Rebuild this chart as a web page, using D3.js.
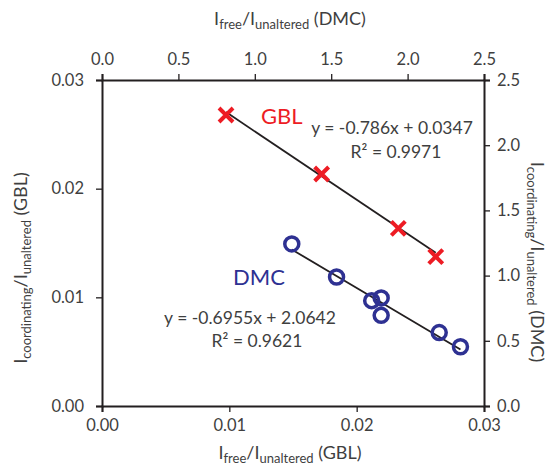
<!DOCTYPE html>
<html>
<head>
<meta charset="utf-8">
<script src="https://cdn.jsdelivr.net/npm/d3@7"></script>
<style>
  html, body { margin: 0; padding: 0; background: #fff; }
  svg text { font-family: Lato, "Open Sans", sans-serif; }
</style>
</head>
<body>
<svg id="chart" width="560" height="470"></svg>
<script>
// GBL: bottom / left axes
const gblFree = [0.00974, 0.01725, 0.02327, 0.02621];
const gblCoord = [0.02678, 0.02135, 0.01635, 0.01374];
const gblFit = { slope: -0.786, intercept: 0.0347, r2: "0.9971" };

// DMC: top / right axes
const dmcFree = [1.242, 1.535, 1.765, 1.827, 1.827, 2.207, 2.346];
const dmcCoord = [1.243, 0.989, 0.808, 0.829, 0.695, 0.563, 0.454];
const dmcFit = { slope: -0.6955, intercept: 2.0642, r2: "0.9621" };

const gblTicks = [0, 0.01, 0.02, 0.03];
const dmcTicks = [0, 0.5, 1.0, 1.5, 2.0, 2.5];

const margin = { left: 102, right: 76, top: 80, bottom: 64 };
const W = 560, H = 470;
const x0 = margin.left, x1 = W - margin.right, y0 = H - margin.bottom, y1 = margin.top;

const RED = "#ed1c24", BLUE = "#2e3192", INK = "#231f20", TXT = "#3f3f3f";

const svg = d3.select("#chart");

const xG = d3.scaleLinear().domain([0, 0.03]).range([x0, x1]);
const yG = d3.scaleLinear().domain([0, 0.03]).range([y0, y1]);
const xD = d3.scaleLinear().domain([0, 2.5]).range([x0, x1]);
const yD = d3.scaleLinear().domain([0, 2.5]).range([y0, y1]);

function styleAxis(g) {
  g.select(".domain").attr("stroke", INK).attr("stroke-width", 2);
  g.selectAll(".tick line").attr("stroke", INK).attr("stroke-width", 1.3);
  g.selectAll(".tick text").attr("fill", TXT).style("font-size", "16.5px")
    .style("font-family", "Lato, 'Open Sans', sans-serif");
}

svg.append("g").attr("transform", `translate(0,${y0})`)
  .call(d3.axisBottom(xG).tickValues(gblTicks).tickFormat(d3.format(".2f")).tickSize(6).tickPadding(7))
  .call(styleAxis);
svg.append("g").attr("transform", `translate(${x0},0)`)
  .call(d3.axisLeft(yG).tickValues(gblTicks).tickFormat(d3.format(".2f")).tickSize(6).tickPadding(12))
  .call(styleAxis);
svg.append("g").attr("transform", `translate(0,${y1})`)
  .call(d3.axisTop(xD).tickValues(dmcTicks).tickFormat(d3.format(".1f")).tickSize(6).tickPadding(9))
  .call(styleAxis);
svg.append("g").attr("transform", `translate(${x1},0)`)
  .call(d3.axisRight(yD).tickValues(dmcTicks).tickFormat(d3.format(".1f")).tickSize(6).tickPadding(7))
  .call(styleAxis);

// Axis titles with subscripted intensities
function title(x, y, rot, sub1, sub2, tag) {
  const t = svg.append("text")
    .attr("transform", `translate(${x},${y}) rotate(${rot})`)
    .attr("text-anchor", "middle")
    .attr("fill", TXT)
    .style("font-size", "18px");
  t.append("tspan").text("I");
  t.append("tspan").attr("dy", 4).style("font-size", "13px").text(sub1);
  t.append("tspan").attr("dy", -4).text("/I");
  t.append("tspan").attr("dy", 4).style("font-size", "13px").text(sub2);
  t.append("tspan").attr("dy", -4).text(" (" + tag + ")");
}
title(290, 25, 0, "free", "unaltered", "DMC");
title(290, 459, 0, "free", "unaltered", "GBL");
title(27, 268, -90, "coordinating", "unaltered", "GBL");
title(531, 262, 90, "coordinating", "unaltered", "DMC");

// Trend lines from the fitted equations
const line = d3.line();
const gx = d3.extent(gblFree);
svg.append("path")
  .attr("d", line(gx.map(v => [xG(v), yG(gblFit.slope * v + gblFit.intercept)])))
  .attr("stroke", INK).attr("stroke-width", 1.8).attr("fill", "none");
const dx = d3.extent(dmcFree);
svg.append("path")
  .attr("d", line(dx.map(v => [xD(v), yD(dmcFit.slope * v + dmcFit.intercept)])))
  .attr("stroke", INK).attr("stroke-width", 1.8).attr("fill", "none");

// GBL markers: crosses
const s = 7;
const gbl = svg.append("g");
gblFree.forEach((v, i) => {
  const cx = xG(v), cy = yG(gblCoord[i]);
  gbl.append("path")
    .attr("d", `M${cx - s},${cy - s}L${cx + s},${cy + s}M${cx - s},${cy + s}L${cx + s},${cy - s}`)
    .attr("stroke", RED).attr("stroke-width", 4).attr("fill", "none");
});

// DMC markers: open circles
svg.append("g").selectAll("circle").data(dmcFree).join("circle")
  .attr("cx", d => xD(d))
  .attr("cy", (d, i) => yD(dmcCoord[i]))
  .attr("r", 7)
  .attr("fill", "none").attr("stroke", BLUE).attr("stroke-width", 3.5);

// Series labels and equations
svg.append("text").attr("x", 261).attr("y", 124).attr("fill", RED)
  .style("font-size", "22px").text("GBL");
svg.append("text").attr("x", 392).attr("y", 134).attr("text-anchor", "middle").attr("fill", TXT)
  .style("font-size", "17.5px").text(`y = ${gblFit.slope}x + ${gblFit.intercept}`);
svg.append("text").attr("x", 396).attr("y", 158).attr("text-anchor", "middle").attr("fill", TXT)
  .style("font-size", "17.5px").text(`R² = ${gblFit.r2}`);

svg.append("text").attr("x", 233).attr("y", 285).attr("fill", BLUE)
  .style("font-size", "22px").text("DMC");
svg.append("text").attr("x", 250).attr("y", 324).attr("text-anchor", "middle").attr("fill", TXT)
  .style("font-size", "17.5px").text(`y = ${dmcFit.slope}x + ${dmcFit.intercept}`);
svg.append("text").attr("x", 257).attr("y", 347).attr("text-anchor", "middle").attr("fill", TXT)
  .style("font-size", "17.5px").text(`R² = ${dmcFit.r2}`);
</script>
</body>
</html>
